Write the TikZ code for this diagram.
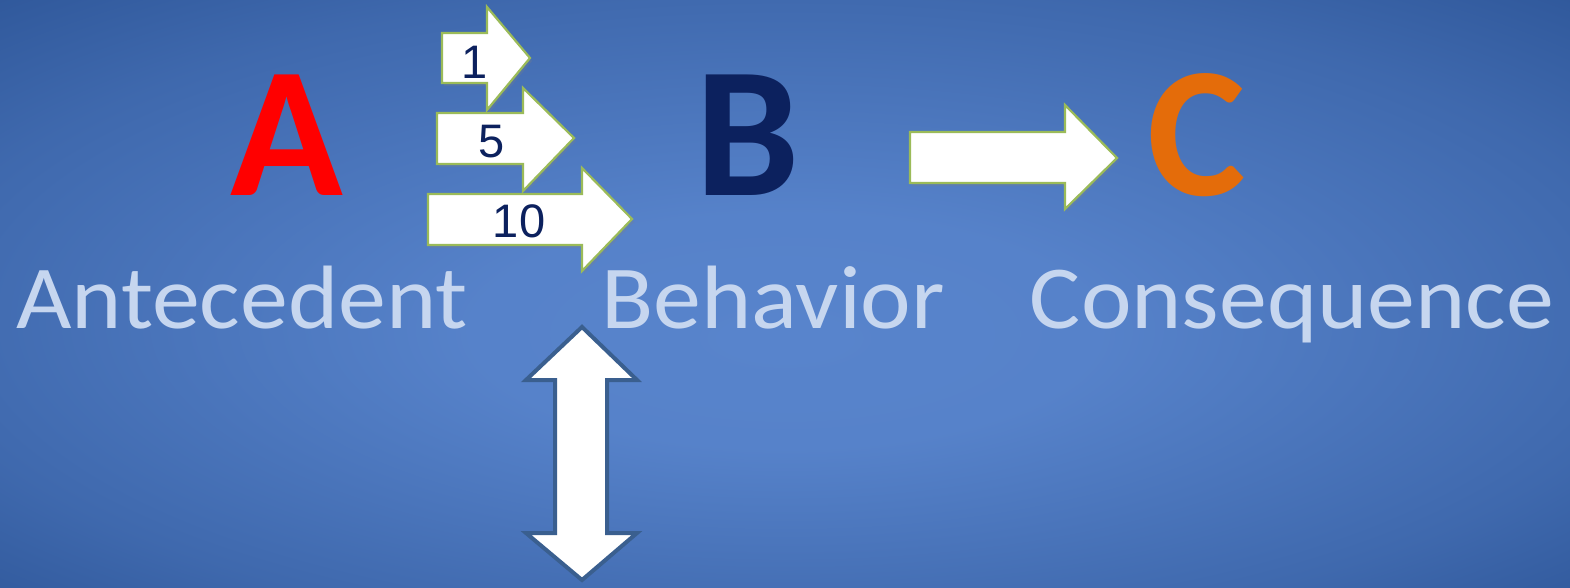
\documentclass[tikz,border=0pt]{standalone}
\usepackage{fontspec}
\setmainfont{Carlito}
\newfontfamily\digitfont{Liberation Sans}
\usetikzlibrary{shadows}
\definecolor{bglight}{HTML}{5884CC}
\definecolor{bgdark}{HTML}{2A5294}
\definecolor{labelblue}{HTML}{C6D6EF}
\definecolor{letterA}{HTML}{FF0000}
\definecolor{letterB}{HTML}{0C215E}
\definecolor{letterC}{HTML}{E46C0A}
\definecolor{navy}{HTML}{0C215E}
\definecolor{leafgreen}{HTML}{9BBB59}
\definecolor{slateblue}{HTML}{3A5F8F}
\pgfdeclareradialshading{slidebg}{\pgfpoint{0bp}{-4bp}}{%
  color(0bp)=(bglight); color(10bp)=(bglight!96!bgdark);
  color(28bp)=(bglight!45!bgdark); color(40bp)=(bgdark); color(50bp)=(bgdark)}
\tikzset{
  blockarrow/.style={fill=white, draw=leafgreen, line width=2.2pt, line join=miter,
    drop shadow={opacity=0.25, shadow xshift=2pt, shadow yshift=-3pt}},
  bigletter/.style={anchor=base, font=\bfseries\fontsize{186}{186}\selectfont},
  termlabel/.style={anchor=base, text=labelblue, font=\fontsize{90}{90}\selectfont,
    xscale=1.065, transform shape},
  countlabel/.style={text=navy, font=\digitfont\fontsize{47}{47}\selectfont, inner sep=0pt},
  twoway/.style={fill=white, draw=slateblue, line width=4pt, line join=miter}
}
\begin{document}
\begin{tikzpicture}[x=1pt,y=-1pt]
\useasboundingbox (0,0) rectangle (1570,587);
\shade[shading=slidebg] (0,0) rectangle (1570,587);

% the three letters
\node[bigletter, text=letterA] (A) at (287,195) {A};
\node[bigletter, text=letterB] (B) at (748,195) {B};
\node[bigletter, text=letterC] (C) at (1197,195) {C};

% the three terms
\node[termlabel] (ante) at (242,328) {Antecedent};
\node[termlabel] (beh) at (773,328) {Behavior};
\node[termlabel] (cons) at (1292,328) {Consequence};

% stacked arrows of growing length
\draw[blockarrow] (442,33) -- (487,33) -- (487,7) -- (530,58) -- (487,110) -- (487,83) -- (442,83) -- cycle;
\node[countlabel] (n1) at (475,62) {1};
\draw[blockarrow] (437,113) -- (523,113) -- (523,88) -- (574,138) -- (523,191) -- (523,164) -- (437,164) -- cycle;
\node[countlabel] (n5) at (492,142) {5};
\draw[blockarrow] (428,194) -- (582,194) -- (582,168) -- (632,219) -- (582,271) -- (582,245) -- (428,245) -- cycle;
\node[countlabel] (n10) at (519,221) {10};

% arrow from behavior to consequence
\draw[blockarrow] (910,132) -- (1065,132) -- (1065,105) -- (1117,158) -- (1065,209) -- (1065,183) -- (910,183) -- cycle;

% vertical two-way arrow
\draw[twoway] (582,327) -- (637,380) -- (607,380) -- (607,533) -- (637,533) -- (582,580)
  -- (526,533) -- (555,533) -- (555,380) -- (526,380) -- cycle;
\end{tikzpicture}
\end{document}
